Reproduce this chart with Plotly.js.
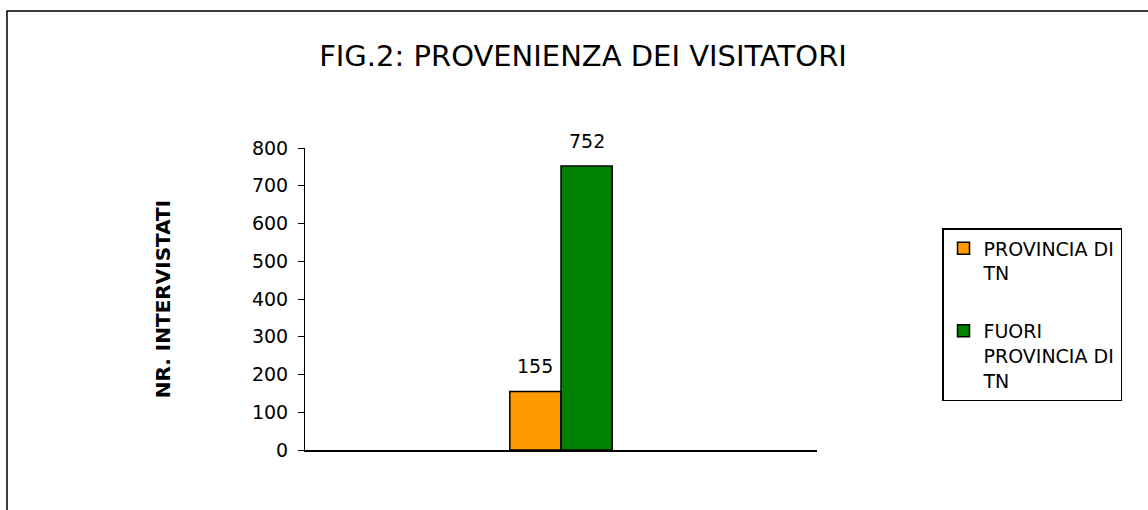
<!DOCTYPE html>
<html>
<head>
<meta charset="utf-8">
<script src="https://cdn.plot.ly/plotly-3.0.1.min.js"></script>
<style>html,body{margin:0;padding:0;background:#fff;}#chart{width:1148px;height:510px;}</style>
</head>
<body>
<div id="chart"></div>
<script>
const categories = ["Provenienza"];
const seriesNames = ["PROVINCIA DI<br>TN", "FUORI<br>PROVINCIA DI<br>TN"];
const provinciaTN = [155];
const fuoriProvincia = [752];
const yTicks = [0, 100, 200, 300, 400, 500, 600, 700, 800];

const FONT = "DejaVu Sans, Verdana, sans-serif";
const series = [provinciaTN, fuoriProvincia];
const colors = ["#FF9900", "#008000"];

const traces = series.map((vals, i) => ({
  type: "bar", x: categories, y: vals, name: seriesNames[i], legendgroup: "g" + i,
  marker: {color: colors[i], line: {color: "#000", width: 1.5}}
}));

// data labels placed at each bar's value, offset to the bar's centre in the group
const barHalf = 25.6;
const annotations = [];
series.forEach((vals, i) => {
  vals.forEach((v, j) => {
    annotations.push({x: categories[j], y: v, xref: "x", yref: "y", text: String(v),
      showarrow: false, yanchor: "bottom", yshift: 12, xshift: (i === 0 ? -1 : 1) * barHalf,
      font: {family: FONT, size: 19, color: "#000"}});
  });
});

const layout = {
  width: 1148, height: 510,
  margin: {l: 305, r: 331, t: 148, b: 60},
  paper_bgcolor: "#fff", plot_bgcolor: "#fff",
  font: {family: FONT, color: "#000"},
  title: {text: "FIG.2: PROVENIENZA DEI VISITATORI", font: {family: FONT, size: 29, color: "#000"},
          x: 583/1148, xref: "container", xanchor: "center", y: 1 - 56/510, yanchor: "middle"},
  barmode: "group", bargap: 0.8, bargroupgap: 0,
  xaxis: {showticklabels: false, ticks: "", showgrid: false, zeroline: false,
          showline: true, linecolor: "#000", linewidth: 1.5},
  yaxis: {range: [0, 800], tickvals: yTicks, ticktext: yTicks.map(String),
          ticks: "outside", ticklen: 6, tickcolor: "#000", tickwidth: 1,
          ticklabelstandoff: 6,
          showgrid: false, zeroline: false, showline: true, linecolor: "#000", linewidth: 1,
          tickfont: {family: FONT, size: 19, color: "#000"},
          title: {text: "<b>NR. INTERVISTATI</b>", font: {family: FONT, size: 20, color: "#000"}, standoff: 75}},
  showlegend: true,
  legend: {x: (942-305)/512, y: (450-228)/302, xanchor: "left", yanchor: "top",
           bordercolor: "#000", borderwidth: 1.5, bgcolor: "#fff",
           font: {family: FONT, size: 19, color: "#000"}, valign: "top",
           traceorder: "grouped", tracegroupgap: 30, itemwidth: 30},
  annotations: annotations,
  shapes: [{type: "rect", xref: "paper", yref: "paper",
            x0: (7-305)/512, x1: (1160-305)/512, y0: (450-520)/302, y1: (450-11)/302,
            line: {color: "#000", width: 1.5}, fillcolor: "rgba(0,0,0,0)"}]
};

Plotly.newPlot("chart", traces, layout, {displayModeBar: false, staticPlot: true});
</script>
</body>
</html>
